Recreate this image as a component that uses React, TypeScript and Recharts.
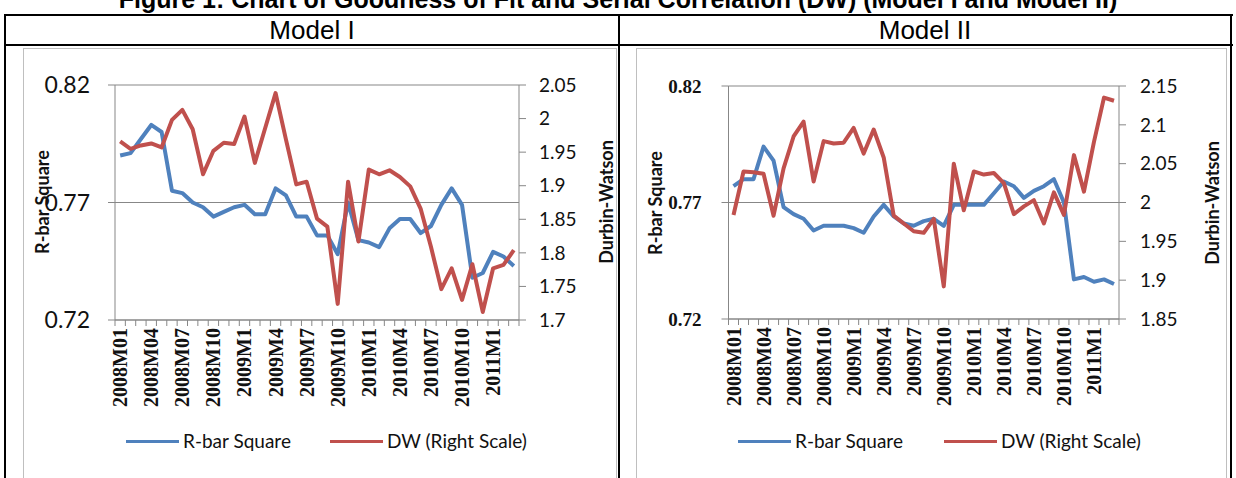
import { LineChart, Line, XAxis, YAxis, CartesianGrid } from "recharts";

// 2008M01 .. 2011M03 (monthly, 39 points)
const months = [
  "2008M01", "2008M02", "2008M03", "2008M04", "2008M05", "2008M06",
  "2008M07", "2008M08", "2008M09", "2008M10", "2008M11", "2008M12",
  "2009M1", "2009M2", "2009M3", "2009M4", "2009M5", "2009M6",
  "2009M7", "2009M8", "2009M9", "2009M10", "2009M11", "2009M12",
  "2010M1", "2010M2", "2010M3", "2010M4", "2010M5", "2010M6",
  "2010M7", "2010M8", "2010M9", "2010M10", "2010M11", "2010M12",
  "2011M1", "2011M2", "2011M3",
];

const rbarModel1 = [
  0.790, 0.791, 0.797, 0.803, 0.800, 0.775, 0.774, 0.770, 0.768, 0.764,
  0.766, 0.768, 0.769, 0.765, 0.765, 0.776, 0.773, 0.764, 0.764, 0.756,
  0.756, 0.748, 0.770, 0.754, 0.753, 0.751, 0.759, 0.763, 0.763, 0.757,
  0.760, 0.769, 0.776, 0.769, 0.738, 0.740, 0.749, 0.747, 0.743,
];
const dwModel1 = [
  1.966, 1.955, 1.960, 1.963, 1.957, 1.998, 2.013, 1.984, 1.917, 1.952,
  1.964, 1.962, 2.003, 1.934, 1.986, 2.038, 1.969, 1.902, 1.906, 1.851,
  1.839, 1.724, 1.906, 1.817, 1.924, 1.917, 1.923, 1.913, 1.899, 1.866,
  1.809, 1.746, 1.777, 1.730, 1.783, 1.712, 1.777, 1.782, 1.804,
];

const rbarModel2 = [
  0.777, 0.780, 0.780, 0.794, 0.788, 0.768, 0.765, 0.763, 0.758, 0.760,
  0.760, 0.760, 0.759, 0.757, 0.764, 0.769, 0.764, 0.761, 0.760, 0.762,
  0.763, 0.760, 0.769, 0.769, 0.769, 0.769, 0.774, 0.779, 0.777, 0.772,
  0.775, 0.777, 0.780, 0.770, 0.737, 0.738, 0.736, 0.737, 0.735,
];
const dwModel2 = [
  1.984, 2.040, 2.039, 2.037, 1.983, 2.044, 2.085, 2.104, 2.027, 2.079,
  2.076, 2.077, 2.096, 2.063, 2.094, 2.058, 1.983, 1.973, 1.963, 1.961,
  1.979, 1.892, 2.050, 1.990, 2.040, 2.036, 2.038, 2.025, 1.985, 1.995,
  2.003, 1.973, 2.013, 1.984, 2.061, 2.014, 2.078, 2.135, 2.131,
];

const rbarTicks = [0.72, 0.77, 0.82];
const dwTicksModel1 = [1.7, 1.75, 1.8, 1.85, 1.9, 1.95, 2, 2.05];
const dwTicksModel2 = [1.85, 1.9, 1.95, 2, 2.05, 2.1, 2.15];

const BLUE = "#4F81BD";
const RED = "#C0504D";
const AXIS = "#878787";
const SANS = "Lato, 'Open Sans', sans-serif";
const SERIF = "'Liberation Serif', 'DejaVu Serif', serif";

// category centres carry the labels (every 3rd month), band edges carry the tick marks
const xTicks: number[] = [];
for (let i = 0; i <= months.length; i++) {
  xTicks.push(i - 0.5);
  if (i < months.length) xTicks.push(i);
}

function MonthTick(props: any) {
  const { x, y, payload } = props;
  const v = payload.value as number;
  if (!Number.isInteger(v)) {
    return <line x1={x} x2={x} y1={y} y2={y + 6} stroke={AXIS} strokeWidth={1} />;
  }
  if (v % 3 !== 0) return null;
  const ty = y + 8;
  return (
    <text
      x={x}
      y={ty}
      transform={`rotate(-90 ${x} ${ty})`}
      textAnchor="end"
      dominantBaseline="central"
      style={{ fontFamily: SERIF, fontWeight: 700, fontSize: 20, fill: "#111" }}
    >
      {months[v]}
    </text>
  );
}

const fmt = (v: number) => String(Number(v.toFixed(2)));

interface PanelProps {
  rbar: number[];
  dw: number[];
  dwDomain: [number, number];
  dwTicks: number[];
  left: number;
  width: number;
  margin: { top: number; right: number; bottom: number; left: number };
  leftTickStyle: React.CSSProperties;
  leftTickMargin: number;
  rightTickMargin: number;
}

function Panel({ rbar, dw, dwDomain, dwTicks, left, width, margin, leftTickStyle, leftTickMargin, rightTickMargin }: PanelProps) {
  const data = months.map((m, i) => ({ idx: i, month: m, rbar: rbar[i], dw: dw[i] }));
  return (
    <div style={{ position: "absolute", left, top: 48 }}>
      <LineChart width={width} height={440} data={data} margin={margin}>
        <CartesianGrid yAxisId="left" vertical={false} stroke={AXIS} strokeWidth={1} />
        <XAxis
          dataKey="idx"
          type="number"
          domain={[-0.5, months.length - 0.5]}
          ticks={xTicks}
          interval={0}
          allowDecimals
          height={100}
          stroke={AXIS}
          tickLine={false}
          tickSize={0}
          tickMargin={0}
          tick={(p: any) => <MonthTick {...p} />}
        />
        <YAxis
          yAxisId="left"
          width={60}
          domain={[0.72, 0.82]}
          ticks={rbarTicks}
          tickFormatter={(v: number) => v.toFixed(2)}
          stroke={AXIS}
          tickSize={7}
          tickMargin={leftTickMargin}
          tick={{ ...leftTickStyle, fill: "#111" } as any}
          allowDataOverflow
        />
        <YAxis
          yAxisId="right"
          orientation="right"
          width={60}
          domain={dwDomain}
          ticks={dwTicks}
          tickFormatter={fmt}
          stroke={AXIS}
          tickSize={7}
          tickMargin={rightTickMargin}
          tick={{ fontFamily: SANS, fontSize: 19, fill: "#111" }}
          allowDataOverflow
        />
        <Line
          yAxisId="left"
          dataKey="rbar"
          type="linear"
          stroke={BLUE}
          strokeWidth={4}
          strokeLinejoin="round"
          dot={false}
          isAnimationActive={false}
        />
        <Line
          yAxisId="right"
          dataKey="dw"
          type="linear"
          stroke={RED}
          strokeWidth={4}
          strokeLinejoin="round"
          dot={false}
          isAnimationActive={false}
        />
      </LineChart>
    </div>
  );
}

function Rotated({ x, y, text }: { x: number; y: number; text: string }) {
  return (
    <div
      style={{
        position: "absolute",
        left: x,
        top: y,
        transform: "translate(-50%, -50%) rotate(-90deg)",
        whiteSpace: "nowrap",
        fontFamily: SANS,
        fontWeight: 700,
        fontSize: 18,
        lineHeight: "20px",
        color: "#111",
      }}
    >
      {text}
    </div>
  );
}

function LegendRow({ x, blueText, redX }: { x: number; blueText: string; redX: number }) {
  const item = (lx: number, color: string, label: string) => (
    <div style={{ position: "absolute", left: lx, top: 429, display: "flex", alignItems: "center", whiteSpace: "nowrap" }}>
      <span style={{ display: "inline-block", width: 53, height: 3, background: color, marginRight: 4 }} />
      <span style={{ fontFamily: SANS, fontSize: 19, lineHeight: "24px", color: "#111" }}>{label}</span>
    </div>
  );
  return (
    <>
      {item(x, BLUE, blueText)}
      {item(redX, RED, "DW (Right Scale)")}
    </>
  );
}

const line = (style: React.CSSProperties) => <div style={{ position: "absolute", background: "#000", ...style }} />;

export default function App() {
  return (
    <div
      style={{
        position: "absolute",
        left: 0,
        top: 0,
        width: 1236,
        height: 478,
        overflow: "hidden",
        background: "#fff",
        fontFamily: "'Liberation Sans', Arial, sans-serif",
      }}
    >
      <div
        style={{
          position: "absolute",
          left: 0,
          top: -15,
          width: 1236,
          textAlign: "center",
          fontWeight: 700,
          fontSize: 25,
          lineHeight: "28px",
          whiteSpace: "nowrap",
        }}
      >
        Figure 1: Chart of Goodness of Fit and Serial Correlation (DW) (Model I and Model II)
      </div>

      {line({ left: 4, top: 14, width: 1229, height: 2 })}
      {line({ left: 4, top: 44, width: 1229, height: 2 })}
      {line({ left: 4, top: 14, width: 2, height: 470 })}
      {line({ left: 618, top: 14, width: 2, height: 470 })}
      {line({ left: 1230, top: 14, width: 2, height: 470 })}

      <div style={{ position: "absolute", left: 6, top: 16, width: 612, textAlign: "center", fontSize: 26, lineHeight: "28px" }}>
        Model I
      </div>
      <div style={{ position: "absolute", left: 620, top: 16, width: 610, textAlign: "center", fontSize: 26, lineHeight: "28px" }}>
        Model II
      </div>

      <div style={{ position: "absolute", left: 23, top: 48, width: 592, height: 440, border: "1px solid #BFBFBF" }} />
      <div style={{ position: "absolute", left: 636, top: 48, width: 589, height: 440, border: "1px solid #BFBFBF" }} />

      <Panel
        rbar={rbarModel1}
        dw={dwModel1}
        dwDomain={[1.7, 2.05]}
        dwTicks={dwTicksModel1}
        left={23}
        width={594}
        margin={{ top: 37, right: 38, bottom: 68, left: 32 }}
        leftTickStyle={{ fontFamily: SANS, fontSize: 23 }}
        leftTickMargin={18}
        rightTickMargin={13}
      />
      <Panel
        rbar={rbarModel2}
        dw={dwModel2}
        dwDomain={[1.85, 2.15]}
        dwTicks={dwTicksModel2}
        left={636}
        width={590}
        margin={{ top: 38, right: 47, bottom: 69, left: 32.5 }}
        leftTickStyle={{ fontFamily: SERIF, fontWeight: 700, fontSize: 19 }}
        leftTickMargin={20}
        rightTickMargin={14}
      />

      <Rotated x={42} y={202} text="R-bar Square" />
      <Rotated x={606} y={202} text="Durbin-Watson" />
      <Rotated x={655} y={203} text="R-bar Square" />
      <Rotated x={1212} y={203} text="Durbin-Watson" />

      <LegendRow x={126} blueText="R-bar Square" redX={330} />
      <LegendRow x={738} blueText="R-bar Square" redX={944} />
    </div>
  );
}
